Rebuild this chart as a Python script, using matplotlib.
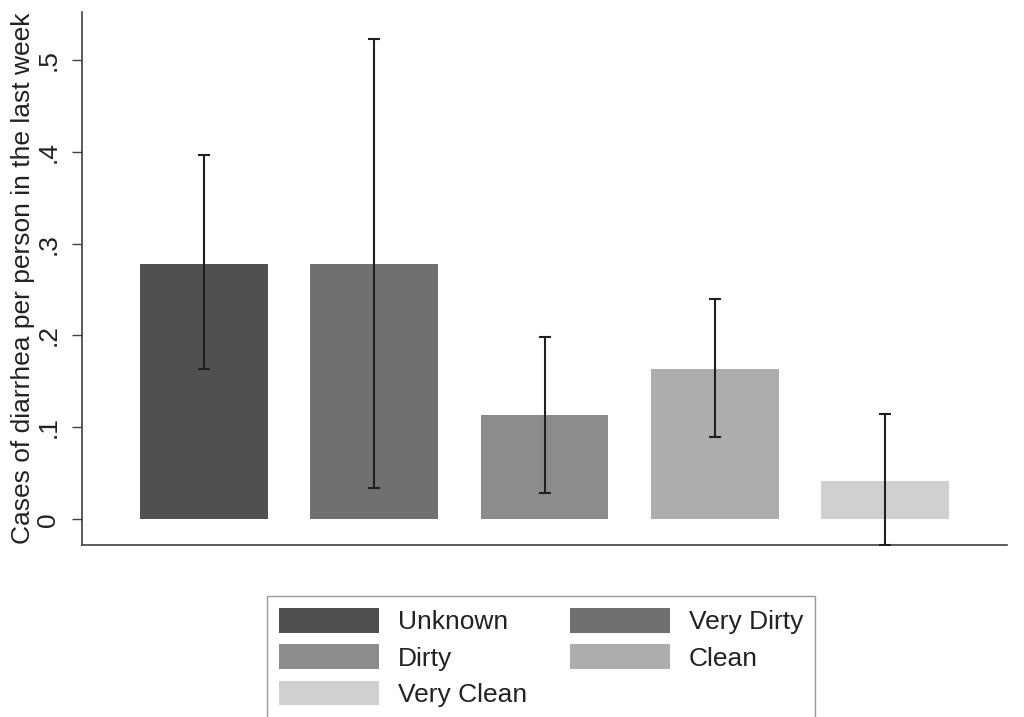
import matplotlib.pyplot as plt
import numpy as np

plt.rcParams['font.family'] = ['Liberation Sans', 'DejaVu Sans']

categories = ["Unknown", "Very Dirty", "Dirty", "Clean", "Very Clean"]
means = [0.278, 0.278, 0.113, 0.164, 0.042]
ci_low = [0.163, 0.034, 0.029, 0.090, -0.028]
ci_high = [0.396, 0.523, 0.198, 0.240, 0.115]
colors = ["#505050", "#707070", "#8c8c8c", "#adadad", "#d0d0d0"]

fig = plt.figure(figsize=(10.24, 7.17), dpi=100)
ax = fig.add_axes([82 / 1024, 1 - 545 / 717, (1007 - 82) / 1024, (545 - 12) / 717])

x = np.arange(len(categories))
bars = []
for i in range(len(categories)):
    b = ax.bar(x[i], means[i], width=0.75, color=colors[i], label=categories[i], zorder=1)
    bars.append(b)

means_arr = np.array(means)
yerr = np.vstack([means_arr - np.array(ci_low), np.array(ci_high) - means_arr])
ax.errorbar(x, means_arr, yerr=yerr, fmt='none', ecolor='#202020', elinewidth=1.5,
            capsize=4.5, capthick=1.5, zorder=3)

ax.set_xlim(-0.716, 4.716)
ax.set_ylim(-0.028, 0.552)
ax.set_xticks([])
ax.set_yticks([0, 0.1, 0.2, 0.3, 0.4, 0.5])
ax.set_yticklabels(["0", ".1", ".2", ".3", ".4", ".5"], rotation=90, va='center')
ax.tick_params(axis='y', direction='out', length=7.5, width=1, colors='#404040',
               labelcolor='#222222', labelsize=19, pad=8)
ax.set_ylabel("Cases of diarrhea per person in the last week", fontsize=19,
              labelpad=1, color='#222222')

for s in ['top', 'right']:
    ax.spines[s].set_visible(False)
for s in ['left', 'bottom']:
    ax.spines[s].set_color('#404040')
    ax.spines[s].set_linewidth(1.2)

# row-major legend order like the original
order = [0, 2, 4, 1, 3]
leg = fig.legend(handles=[bars[i][0] for i in order], labels=[categories[i] for i in order],
                 ncol=2, loc='upper left', bbox_to_anchor=(267 / 1024, 1 - 596 / 717),
                 fontsize=19, frameon=True, fancybox=False, edgecolor='#808080',
                 handlelength=3.8, handleheight=1.06, labelspacing=0.38,
                 handletextpad=0.72, columnspacing=1.6, borderpad=0.45,
                 borderaxespad=0)
leg.get_frame().set_linewidth(1.0)
for t in leg.get_texts():
    t.set_color('#222222')

plt.savefig("out.png", dpi=100)
